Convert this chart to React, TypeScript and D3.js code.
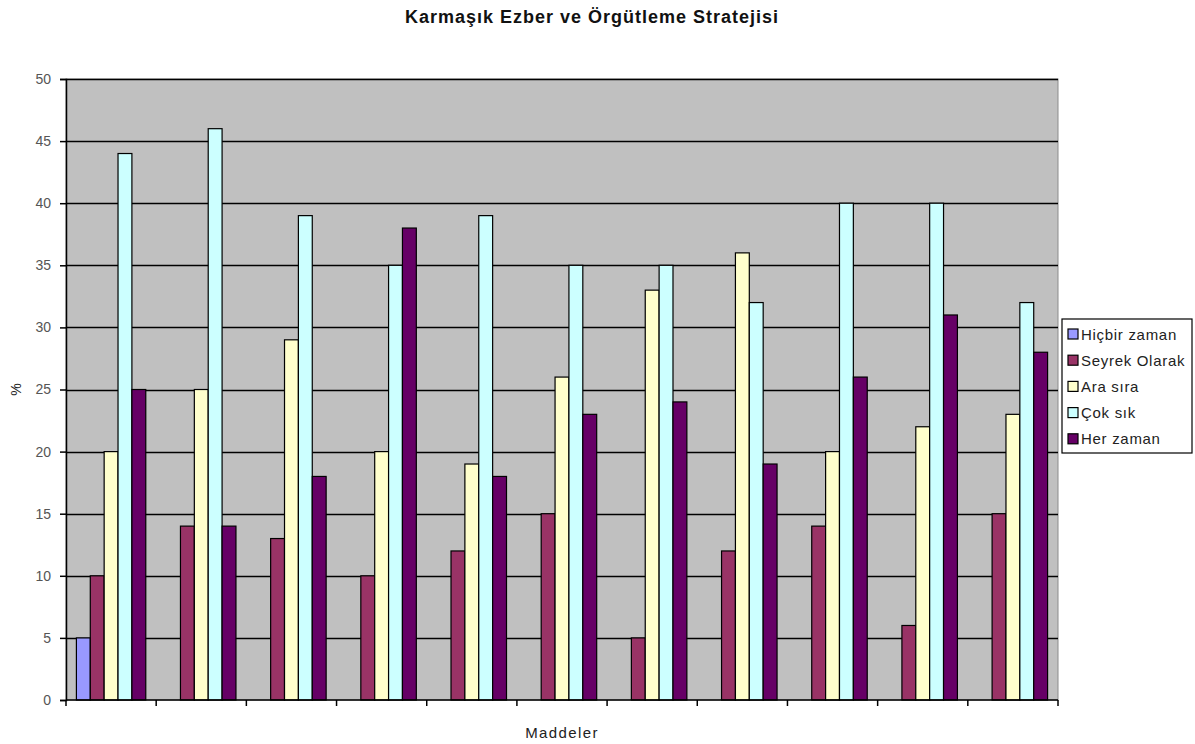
import React, { useEffect, useRef } from "react";
import * as d3 from "d3";

const items = ["1", "2", "3", "4", "5", "6", "7", "8", "9", "10", "11"];
const seriesNames = ["Hiçbir zaman", "Seyrek Olarak", "Ara sıra", "Çok sık", "Her zaman"];
const seriesColors = ["#9999FF", "#993366", "#FFFFCC", "#CCFFFF", "#660066"];

const hicbirZaman = [5, 0, 0, 0, 0, 0, 0, 0, 0, 0, 0];
const seyrekOlarak = [10, 14, 13, 10, 12, 15, 5, 12, 14, 6, 15];
const araSira = [20, 25, 29, 20, 19, 26, 33, 36, 20, 22, 23];
const cokSik = [44, 46, 39, 35, 39, 35, 35, 32, 40, 40, 32];
const herZaman = [25, 14, 18, 38, 18, 23, 24, 19, 26, 31, 28];

const yTicks = [0, 5, 10, 15, 20, 25, 30, 35, 40, 45, 50];

const W = 1195;
const H = 744;
const margin = { top: 79, right: 137, bottom: 44, left: 66 };
const font = "'Liberation Sans', Arial, sans-serif";

function App() {
  const ref = useRef<HTMLDivElement>(null);

  useEffect(() => {
    if (!ref.current) return;
    ref.current.innerHTML = "";

    const values = [hicbirZaman, seyrekOlarak, araSira, cokSik, herZaman];

    const svg = d3
      .select(ref.current)
      .append("svg")
      .attr("width", W)
      .attr("height", H)
      .style("display", "block")
      .style("font-family", font);

    svg.append("rect").attr("width", W).attr("height", H).attr("fill", "#fff");

    const x0 = d3
      .scaleBand()
      .domain(items)
      .range([margin.left, W - margin.right])
      .paddingInner(1.5 / 6.5)
      .paddingOuter(0.75 / 6.5);

    const x1 = d3
      .scaleBand()
      .domain(seriesNames)
      .range([0, x0.bandwidth()]);

    const y = d3
      .scaleLinear()
      .domain([0, 50])
      .range([H - margin.bottom, margin.top]);

    // plot area
    svg
      .append("rect")
      .attr("x", margin.left)
      .attr("y", margin.top)
      .attr("width", W - margin.right - margin.left)
      .attr("height", H - margin.bottom - margin.top)
      .attr("fill", "#C0C0C0")
      .attr("stroke", "#8c8c8c")
      .attr("stroke-width", 1);

    // gridlines
    svg
      .append("g")
      .selectAll("line")
      .data(yTicks.filter((t) => t > 0))
      .join("line")
      .attr("x1", margin.left)
      .attr("x2", W - margin.right)
      .attr("y1", (d) => Math.round(y(d)) + 0.5)
      .attr("y2", (d) => Math.round(y(d)) + 0.5)
      .attr("stroke", "#000")
      .attr("stroke-width", 1.5);

    // bars
    const groups = svg
      .append("g")
      .selectAll("g")
      .data(items)
      .join("g")
      .attr("transform", (d) => `translate(${x0(d)},0)`);

    groups
      .selectAll("rect")
      .data((d, i) =>
        seriesNames.map((name, s) => ({ name, value: values[s][i], color: seriesColors[s] }))
      )
      .join("rect")
      .filter((d) => d.value > 0)
      .attr("x", (d) => x1(d.name)!)
      .attr("y", (d) => y(d.value))
      .attr("width", x1.bandwidth())
      .attr("height", (d) => y(0) - y(d.value))
      .attr("fill", (d) => d.color)
      .attr("stroke", "#000")
      .attr("stroke-width", 1.2);

    // y axis
    const yAxis = svg
      .append("g")
      .attr("transform", `translate(${margin.left},0)`)
      .call(d3.axisLeft(y).tickValues(yTicks).tickSize(6).tickPadding(9));
    yAxis.select(".domain").attr("stroke", "#000").attr("stroke-width", 1.5);
    yAxis.selectAll(".tick line").attr("stroke", "#000").attr("stroke-width", 1.5);
    yAxis
      .selectAll(".tick text")
      .attr("fill", "#555")
      .style("font-size", "14px")
      .style("font-family", font);

    // x axis (category boundaries as ticks)
    const bounds = items.map((d) => x0(d)! - x0.step() * (0.75 / 6.5)).concat([W - margin.right]);
    const xAxis = svg.append("g").attr("transform", `translate(0,${H - margin.bottom})`);
    xAxis
      .append("line")
      .attr("x1", margin.left)
      .attr("x2", W - margin.right)
      .attr("stroke", "#000")
      .attr("stroke-width", 1.5);
    xAxis
      .selectAll("line.tk")
      .data(bounds)
      .join("line")
      .attr("class", "tk")
      .attr("x1", (d) => d)
      .attr("x2", (d) => d)
      .attr("y1", 0)
      .attr("y2", 6)
      .attr("stroke", "#000")
      .attr("stroke-width", 1.5);

    // title
    svg
      .append("text")
      .attr("x", 592)
      .attr("y", 23)
      .attr("text-anchor", "middle")
      .attr("fill", "#111")
      .style("font-size", "18px")
      .style("font-weight", "bold")
      .style("letter-spacing", "1px")
      .text("Karmaşık Ezber ve Örgütleme Stratejisi");

    // axis titles
    svg
      .append("text")
      .attr("x", (margin.left + W - margin.right) / 2)
      .attr("y", 738)
      .attr("text-anchor", "middle")
      .attr("fill", "#222")
      .style("font-size", "15px")
      .style("letter-spacing", "1.4px")
      .text("Maddeler");

    svg
      .append("text")
      .attr("transform", `translate(21,${(margin.top + H - margin.bottom) / 2}) rotate(-90)`)
      .attr("text-anchor", "middle")
      .attr("fill", "#222")
      .style("font-size", "14px")
      .text("%");

    // legend
    const lg = svg.append("g").attr("transform", "translate(1062,319)");
    lg.append("rect")
      .attr("width", 130)
      .attr("height", 134)
      .attr("fill", "#fff")
      .attr("stroke", "#000")
      .attr("stroke-width", 1.2);
    const rows = lg
      .selectAll("g")
      .data(seriesNames)
      .join("g")
      .attr("transform", (d, i) => `translate(6,${15 + i * 26.2})`);
    rows
      .append("rect")
      .attr("x", 0)
      .attr("y", -5)
      .attr("width", 10)
      .attr("height", 10)
      .attr("fill", (d, i) => seriesColors[i])
      .attr("stroke", "#000")
      .attr("stroke-width", 1.2);
    rows
      .append("text")
      .attr("x", 13)
      .attr("y", 5.5)
      .attr("fill", "#222")
      .style("font-size", "15px")
      .style("letter-spacing", "0.7px")
      .text((d) => d);
  }, []);

  return (
    <div style={{ position: "absolute", left: 0, top: 0 }}>
      <div ref={ref} />
    </div>
  );
}

export default App;
